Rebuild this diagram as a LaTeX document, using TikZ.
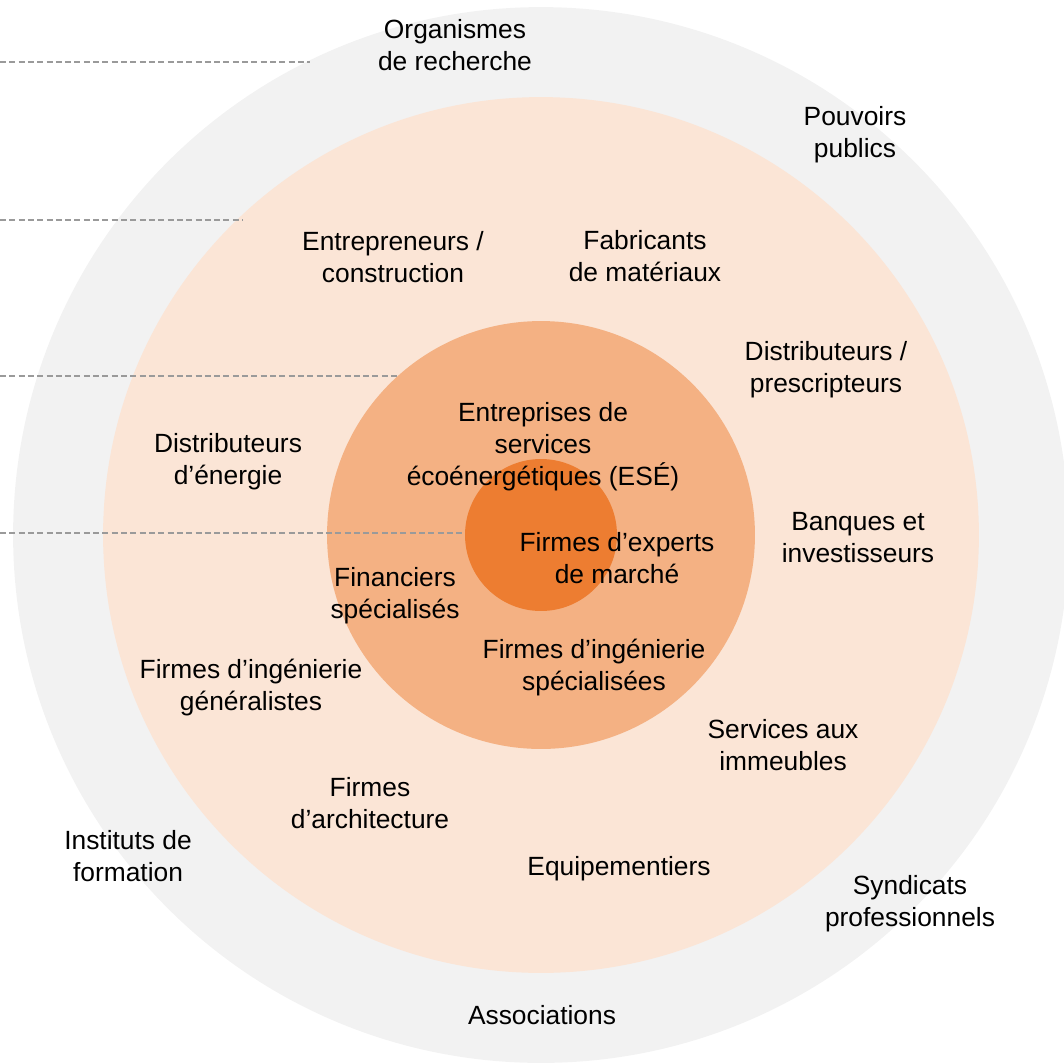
\documentclass[tikz,border=0pt]{standalone}
\usepackage{fontspec}
\setmainfont{Liberation Sans}
\usepackage{xcolor}
\usepackage{tikz}
\definecolor{ringgray}{HTML}{F2F2F2}
\definecolor{ringpeach}{HTML}{FBE5D6}
\definecolor{ringtan}{HTML}{F4B183}
\definecolor{ringorange}{HTML}{ED7D31}
\definecolor{guidegray}{HTML}{9A9A9A}

\begin{document}
\begin{tikzpicture}[x=0.02cm,y=-0.02cm,
  ring/.style={circle,inner sep=0pt,outer sep=0pt,minimum size=#1},
  lbl/.style={align=center,inner sep=0pt,yshift=-0.08cm,font=\fontsize{15}{18.2}\selectfont,
    execute at begin node=\strut,execute at end node=\strut},
  guide/.style={draw=guidegray,line width=0.9pt,dash pattern=on 3.4pt off 1.9pt}]
\useasboundingbox (0,0) rectangle (1064,1062);
% rings
\node[ring=21.12cm,fill=ringgray] (outer) at (541,535) {};
\node[ring=17.52cm,fill=ringpeach] (middle) at (541,535) {};
\node[ring=8.56cm,fill=ringtan] (inner) at (541,535) {};
\node[ring=3.04cm,fill=ringorange] (core) at (541,535) {};
% guides
\foreach \yy/\ring/\ang in {62/outer/116.4, 220/middle/133.8, 376/inner/132.0, 533/core/178.5}
{
  \coordinate (g\yy) at (0,\yy);
  \draw[guide] (g\yy) -- (\ring.\ang |- g\yy);
}
% labels
\node[lbl] (org) at (455,46) {Organismes\\de recherche};
\node[lbl] (pouv) at (855,133) {Pouvoirs\\publics};
\node[lbl] (entr) at (393,258) {Entrepreneurs /\\construction};
\node[lbl] (fabr) at (645,257) {Fabricants\\de matériaux};
\node[lbl] (distp) at (826,368) {Distributeurs /\\prescripteurs};
\node[lbl] (diste) at (228,460) {Distributeurs\\d’énergie};
\node[lbl] (ese) at (543,445) {Entreprises de\\services\\écoénergétiques (ESÉ)};
\node[lbl] (banq) at (858,538) {Banques et\\investisseurs};
\node[lbl] (expert) at (617,559) {Firmes d’experts\\de marché};
\node[lbl] (finan) at (395,594) {Financiers\\spécialisés};
\node[lbl] (ingsp) at (594,666) {Firmes d’ingénierie\\spécialisées};
\node[lbl] (ingge) at (251,686) {Firmes d’ingénierie\\généralistes};
\node[lbl] (serv) at (783,746) {Services aux\\immeubles};
\node[lbl] (archi) at (370,804) {Firmes\\d’architecture};
\node[lbl] (inst) at (128,857) {Instituts de\\formation};
\node[lbl] (equip) at (619,865) {Equipementiers};
\node[lbl] (synd) at (910,902) {Syndicats\\professionnels};
\node[lbl] (assoc) at (542,1014) {Associations};
\end{tikzpicture}
\end{document}
